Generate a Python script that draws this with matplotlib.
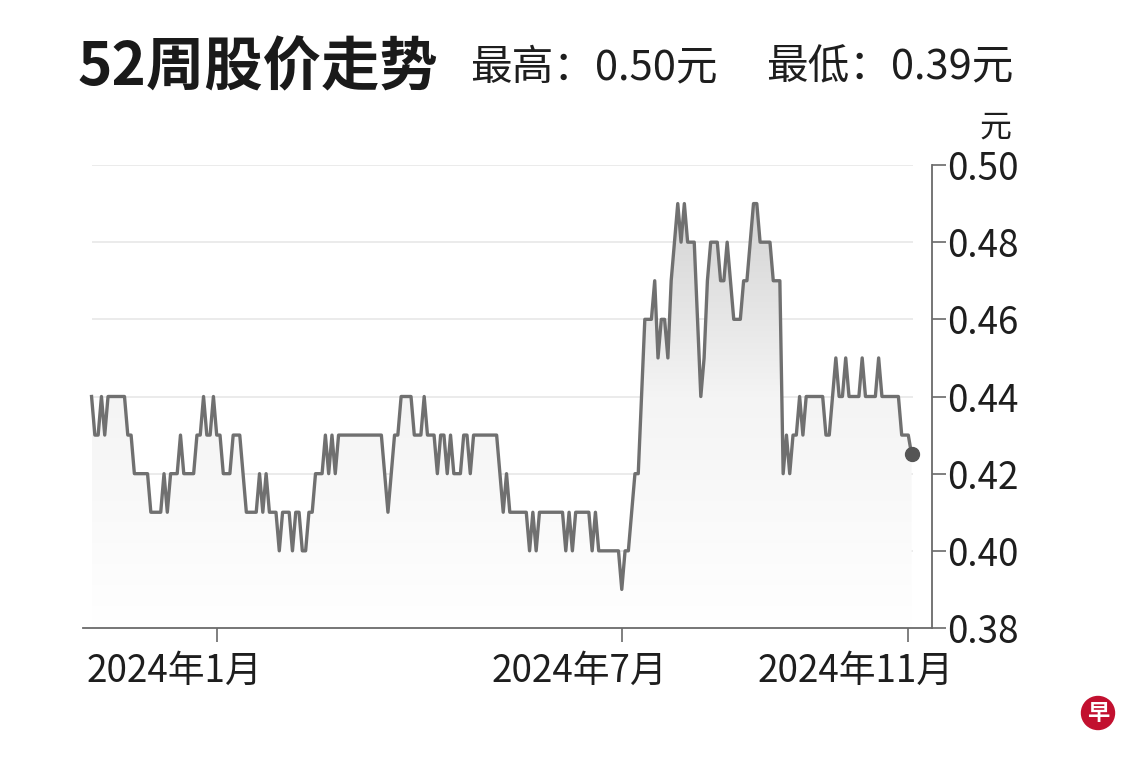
import numpy as np
import pandas as pd
import matplotlib
matplotlib.use('Agg')
import matplotlib.pyplot as plt
from matplotlib.colors import LinearSegmentedColormap
from matplotlib.patches import Circle
from matplotlib.transforms import ScaledTranslation

plt.rcParams['font.family'] = ['Noto Sans CJK SC', 'DejaVu Sans']

# SGX non-trading days inside the 52 week window
holidays = ['2023-11-13', '2023-12-25', '2024-01-01', '2024-02-12', '2024-03-29',
            '2024-04-10', '2024-05-01', '2024-05-22', '2024-06-17', '2024-08-09',
            '2024-10-31']

# daily closing price (元), one per trading day from 2023-11-06
prices = [
    0.44, 0.43, 0.43, 0.44, 0.43, 0.44, 0.44, 0.44, 0.44, 0.44,
    0.44, 0.43, 0.43, 0.42, 0.42, 0.42, 0.42, 0.42, 0.41, 0.41,
    0.41, 0.41, 0.42, 0.41, 0.42, 0.42, 0.42, 0.43, 0.42, 0.42,
    0.42, 0.42, 0.43, 0.43, 0.44, 0.43, 0.43, 0.44, 0.43, 0.43,
    0.42, 0.42, 0.42, 0.43, 0.43, 0.43, 0.42, 0.41, 0.41, 0.41,
    0.41, 0.42, 0.41, 0.42, 0.41, 0.41, 0.41, 0.40, 0.41, 0.41,
    0.41, 0.40, 0.41, 0.41, 0.40, 0.40, 0.41, 0.41, 0.42, 0.42,
    0.42, 0.43, 0.42, 0.43, 0.42, 0.43, 0.43, 0.43, 0.43, 0.43,
    0.43, 0.43, 0.43, 0.43, 0.43, 0.43, 0.43, 0.43, 0.43, 0.42,
    0.41, 0.42, 0.43, 0.43, 0.44, 0.44, 0.44, 0.44, 0.43, 0.43,
    0.43, 0.44, 0.43, 0.43, 0.43, 0.42, 0.43, 0.43, 0.42, 0.43,
    0.42, 0.42, 0.42, 0.43, 0.43, 0.42, 0.43, 0.43, 0.43, 0.43,
    0.43, 0.43, 0.43, 0.43, 0.42, 0.41, 0.42, 0.41, 0.41, 0.41,
    0.41, 0.41, 0.41, 0.40, 0.41, 0.40, 0.41, 0.41, 0.41, 0.41,
    0.41, 0.41, 0.41, 0.41, 0.40, 0.41, 0.40, 0.41, 0.41, 0.41,
    0.41, 0.41, 0.40, 0.41, 0.40, 0.40, 0.40, 0.40, 0.40, 0.40,
    0.40, 0.39, 0.40, 0.40, 0.41, 0.42, 0.42, 0.44, 0.46, 0.46,
    0.46, 0.47, 0.45, 0.46, 0.46, 0.45, 0.47, 0.48, 0.49, 0.48,
    0.49, 0.48, 0.48, 0.48, 0.46, 0.44, 0.45, 0.47, 0.48, 0.48,
    0.48, 0.47, 0.47, 0.48, 0.47, 0.46, 0.46, 0.46, 0.47, 0.47,
    0.48, 0.49, 0.49, 0.48, 0.48, 0.48, 0.48, 0.47, 0.47, 0.47,
    0.42, 0.43, 0.42, 0.43, 0.43, 0.44, 0.43, 0.44, 0.44, 0.44,
    0.44, 0.44, 0.44, 0.43, 0.43, 0.44, 0.45, 0.44, 0.44, 0.45,
    0.44, 0.44, 0.44, 0.44, 0.45, 0.44, 0.44, 0.44, 0.44, 0.45,
    0.44, 0.44, 0.44, 0.44, 0.44, 0.44, 0.43, 0.43, 0.43, 0.425,
]

tick_months = ['2024-01', '2024-07', '2024-11']
tick_labels = ['2024年1月', '2024年7月', '2024年11月']
y_ticks = [0.38, 0.40, 0.42, 0.44, 0.46, 0.48, 0.50]

title = '52周股价走势'
high_text = '最高：0.50元'
low_text = '最低：0.39元'
unit = '元'

days = pd.bdate_range('2023-11-06', periods=len(prices), freq='C', holidays=holidays)
x = np.arange(len(prices))
y = np.array(prices)
month_str = days.strftime('%Y-%m')
tick_pos = [int(np.argmax(month_str == m)) for m in tick_months]

W, H = 1140, 760
fig = plt.figure(figsize=(W / 100, H / 100), dpi=100)
ax = fig.add_axes([83 / W, 1 - 628 / H, (932 - 83) / W, (628 - 165) / H])

ax.set_xlim(-2.6, 255.2)
ax.set_ylim(0.38, 0.50)

# grid lines only over the data range
ax.hlines(y_ticks[1:], x[0], x[-1] + 0.5, color='#e9e9e9', lw=1.3, zorder=0)

# gradient fill under the line
poly = ax.fill_between(x, y, 0.38, facecolor='none', edgecolor='none')
cmap = LinearSegmentedColormap.from_list('g', ['#ffffff', '#f4f4f4', '#cdcdcd'])
grad = np.linspace(0, 1, 256).reshape(-1, 1)
im = ax.imshow(grad, extent=[x[0], x[-1], 0.38, 0.50], origin='lower',
               aspect='auto', cmap=cmap, zorder=1)
im.set_clip_path(poly.get_paths()[0], transform=ax.transData)

ax.plot(x, y, color='#707070', lw=2.4, solid_joinstyle='round', zorder=3)
ax.plot(x[-1], y[-1], 'o', color='#555555', ms=10, zorder=4)

for s in ['left', 'top']:
    ax.spines[s].set_visible(False)
for s in ['right', 'bottom']:
    ax.spines[s].set_color('#6a6a6a')
    ax.spines[s].set_linewidth(1.3)

ax.yaxis.tick_right()
ax.set_yticks(y_ticks)
ax.set_yticklabels([f'{v:.2f}' for v in y_ticks])
ax.tick_params(axis='y', length=10, width=1.2, color='#6a6a6a', pad=1,
               labelsize=26.5, labelcolor='#1e1e1e')

ax.set_xticks(tick_pos)
ax.set_xticklabels(tick_labels)
ax.tick_params(axis='x', length=10, width=1.2, color='#6a6a6a', pad=7,
               labelsize=26.5, labelcolor='#1e1e1e')
shift = ScaledTranslation(0.45, 0, fig.dpi_scale_trans)
for lab in ax.get_xticklabels():
    lab.set_horizontalalignment('right')
    lab.set_transform(lab.get_transform() + shift)

fig.text(78 / W, 1 - 68 / H, title, fontsize=42, fontweight='bold',
         color='#1a1a1a', ha='left', va='center')
fig.text(470 / W, 1 - 68 / H, high_text, fontsize=30, color='#1e1e1e',
         ha='left', va='center')
fig.text(766 / W, 1 - 68 / H, low_text, fontsize=30, color='#1e1e1e',
         ha='left', va='center')
fig.text(995 / W, 1 - 128 / H, unit, fontsize=23, color='#1e1e1e',
         ha='center', va='center')

# paper logo
fig.add_artist(Circle((1098 / 100, (H - 713) / 100), 0.165,
                      transform=fig.dpi_scale_trans, color='#c2102f'))
fig.text(1098 / W, 1 - 713 / H, '早', fontsize=16, fontweight='bold',
         color='white', ha='center', va='center')

fig.savefig('out.png', dpi=100)
